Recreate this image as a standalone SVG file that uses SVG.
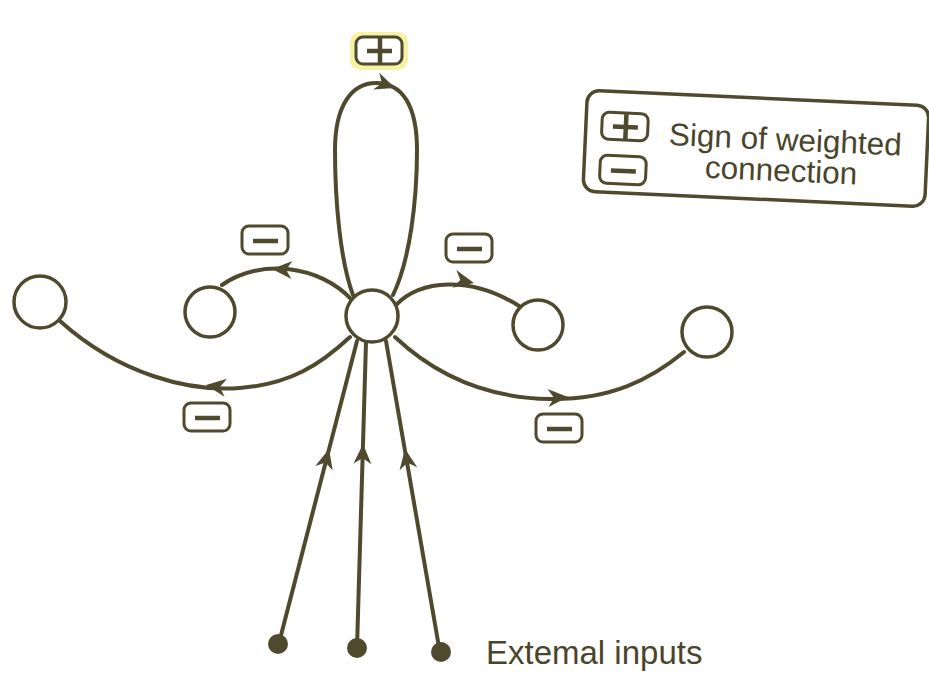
<svg xmlns="http://www.w3.org/2000/svg" width="929" height="677" viewBox="0 0 929 677">
  <style>
    .wire { fill: none; stroke: #4f4a2d; stroke-width: 4; stroke-linecap: round; }
    .node { fill: #ffffff; stroke: #4f4a2d; stroke-width: 3.5; }
    .input { fill: #4f4a2d; }
    .tag { fill: #ffffff; stroke: #4f4a2d; stroke-width: 3; }
    .bar { stroke: #4f4a2d; stroke-width: 4.5; stroke-linecap: butt; }
    .label { font-family: "Liberation Sans", Arial, sans-serif; fill: #4a452a; }
  </style>
  <defs>
    <path id="head" d="M0,0 L-20,-9 L-14,0 L-20,9 Z" fill="#4f4a2d"/>
    <!-- sign tags: rounded box with a minus bar or a plus -->
    <g id="minus">
      <rect class="tag" x="0" y="0" width="46" height="28" rx="7"/>
      <line class="bar" x1="11" y1="15" x2="36" y2="15"/>
    </g>
    <g id="plus">
      <rect class="tag" x="0" y="0" width="46" height="27" rx="7"/>
      <line class="bar" x1="11" y1="14" x2="36" y2="14"/>
      <line class="bar" x1="24" y1="1" x2="24" y2="26"/>
    </g>
  </defs>

  <rect width="929" height="677" fill="#ffffff"/>

  <!-- connectors -->
  <g id="connectors">
    <!-- self-excitation loop -->
    <path class="wire" d="M353,295 C 340,260 335,200 335,150 C 335,105 352,83 376,83 C 402,83 417,105 417,150 C 417,200 410,260 393,295"/>
    <use href="#head" transform="translate(395,88) rotate(20)"/>
    <!-- inhibitory links to neighbours -->
    <path class="wire" d="M352,300 C 320,265 260,258 222,285"/>
    <use href="#head" transform="translate(272,269) rotate(183)"/>
    <path class="wire" d="M396,305 C 420,280 470,275 519,306"/>
    <use href="#head" transform="translate(474,283) rotate(12)"/>
    <path class="wire" d="M60,321 C 120,375 190,392 240,388 C 290,384 320,365 350,337"/>
    <use href="#head" transform="translate(206,385) rotate(188)"/>
    <path class="wire" d="M395,337 C 430,370 480,398 550,399 C 610,400 650,380 684,352"/>
    <use href="#head" transform="translate(568,397) rotate(-3)"/>
    <!-- external inputs -->
    <line class="wire" x1="279" y1="643" x2="357" y2="341"/>
    <use href="#head" transform="translate(329,449) rotate(-75.5)"/>
    <line class="wire" x1="357" y1="648" x2="366" y2="342"/>
    <use href="#head" transform="translate(363,444) rotate(-88.3)"/>
    <line class="wire" x1="440" y1="653" x2="386" y2="341"/>
    <use href="#head" transform="translate(405,449) rotate(-99.8)"/>
  </g>

  <!-- sign tags on connections -->
  <g id="signs">
    <rect x="350" y="32" width="58" height="38" rx="10" fill="#f3ee8e" opacity="0.8"/>
    <use href="#plus" transform="translate(356,37)"/>
    <use href="#minus" transform="translate(242,226)"/>
    <use href="#minus" transform="translate(446,234)"/>
    <use href="#minus" transform="translate(184,403)"/>
    <use href="#minus" transform="translate(536,414)"/>
  </g>

  <!-- units -->
  <g id="center-node"><circle class="node" cx="372" cy="316" r="26"/></g>
  <g id="left-near"><circle class="node" cx="210" cy="312" r="25"/></g>
  <g id="right-near"><circle class="node" cx="538" cy="325" r="25"/></g>
  <g id="left-far"><circle class="node" cx="40" cy="302" r="26"/></g>
  <g id="right-far"><circle class="node" cx="707" cy="332" r="25"/></g>

  <g id="inputs">
    <circle class="input" cx="278" cy="644" r="10"/>
    <circle class="input" cx="357" cy="648" r="10"/>
    <circle class="input" cx="441" cy="652" r="10"/>
    <text class="label" x="486" y="664" font-size="33">Extemal inputs</text>
  </g>

  <!-- legend -->
  <g id="legend" transform="rotate(2.6 756 149)">
    <rect x="585" y="98" width="342" height="101" rx="12" fill="#ffffff" stroke="#4f4a2d" stroke-width="3.5"/>
    <use href="#plus" transform="translate(601,119)"/>
    <use href="#minus" transform="translate(601,162)"/>
    <text class="label" x="785" y="149" font-size="31.5" text-anchor="middle">Sign of weighted</text>
    <text class="label" x="782" y="180" font-size="31.5" text-anchor="middle">connection</text>
  </g>
</svg>
